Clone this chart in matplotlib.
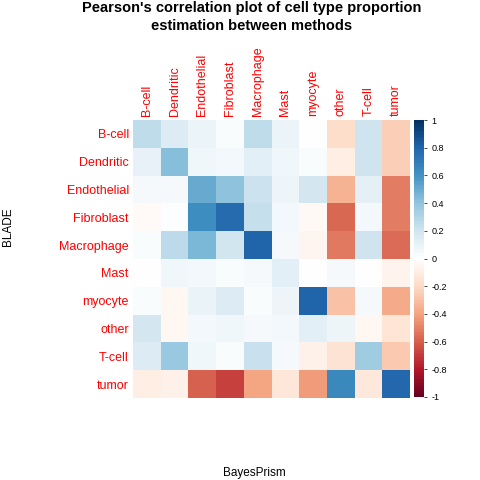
import numpy as np
import matplotlib
matplotlib.use('Agg')
import matplotlib.pyplot as plt
from matplotlib.colors import LinearSegmentedColormap

plt.rcParams['font.family'] = ['Liberation Sans', 'DejaVu Sans']

# cell types (rows = BLADE, columns = BayesPrism)
cell_types = ['B-cell', 'Dendritic', 'Endothelial', 'Fibroblast', 'Macrophage',
              'Mast', 'myocyte', 'other', 'T-cell', 'tumor']

# correlation values, one list per row
r_bcell       = [0.25, 0.15, 0.08, 0.02, 0.25, 0.08, 0.00, -0.19, 0.20, -0.25]
r_dendritic   = [0.10, 0.42, 0.06, 0.05, 0.12, 0.06, 0.02, -0.10, 0.20, -0.25]
r_endothelial = [0.04, 0.04, 0.50, 0.40, 0.21, 0.07, 0.18, -0.35, 0.11, -0.52]
r_fibroblast  = [-0.03, 0.01, 0.62, 0.77, 0.23, 0.05, -0.04, -0.58, 0.05, -0.52]
r_macrophage  = [0.02, 0.26, 0.45, 0.19, 0.80, 0.04, -0.06, -0.53, 0.20, -0.57]
r_mast        = [0.00, 0.06, 0.05, 0.02, 0.04, 0.12, 0.00, 0.04, 0.00, -0.07]
r_myocyte     = [0.02, -0.05, 0.09, 0.14, 0.02, 0.07, 0.80, -0.30, 0.04, -0.38]
r_other       = [0.18, -0.05, 0.05, 0.06, 0.04, 0.05, 0.12, 0.07, -0.05, -0.15]
r_tcell       = [0.14, 0.37, 0.06, 0.02, 0.22, 0.04, -0.08, -0.16, 0.35, -0.27]
r_tumor       = [-0.10, -0.08, -0.60, -0.68, -0.40, -0.14, -0.43, 0.64, -0.13, 0.78]

corr = np.array([r_bcell, r_dendritic, r_endothelial, r_fibroblast, r_macrophage,
                 r_mast, r_myocyte, r_other, r_tcell, r_tumor])
cbar_ticks = [-1, -0.8, -0.6, -0.4, -0.2, 0, 0.2, 0.4, 0.6, 0.8, 1]

# corrplot-style RdBu palette (white in the middle)
rdbu = LinearSegmentedColormap.from_list('corr_rdbu', [
    '#67001F', '#B2182B', '#D6604D', '#F4A582', '#FDDBC7', '#FFFFFF',
    '#D1E5F0', '#92C5DE', '#4393C3', '#2166AC', '#053061'], N=200)

W, H = 480, 480
fig = plt.figure(figsize=(4.8, 4.8), dpi=100)

# heatmap axes (pixel box: x 133-410, y 120-398)
ax = fig.add_axes([133 / W, 1 - 398 / H, (410 - 133) / W, (398 - 120) / H])
n = len(cell_types)
mesh = ax.pcolormesh(np.arange(n + 1), np.arange(n + 1), corr,
                     cmap=rdbu, vmin=-1, vmax=1)
ax.set_xlim(0, n)
ax.set_ylim(n, 0)
ax.set_xticks(np.arange(n) + 0.5)
ax.set_yticks(np.arange(n) + 0.5)
ax.set_xticklabels(cell_types, rotation=90, color='red', fontsize=9)
ax.set_yticklabels(cell_types, color='red', fontsize=9)
ax.xaxis.tick_top()
ax.tick_params(length=0, pad=3)
for s in ax.spines.values():
    s.set_visible(False)

# colour bar
cax = fig.add_axes([414 / W, 1 - 397 / H, 10 / W, (397 - 120) / H])
cb = fig.colorbar(mesh, cax=cax, ticks=cbar_ticks)
cb.outline.set_visible(False)
cb.ax.set_yticklabels(['%g' % t for t in cbar_ticks])
cb.ax.tick_params(labelsize=6.5, length=2, width=0.5)

fig.text(0.525, 0.997, "Pearson's correlation plot of cell type proportion\nestimation between methods",
         ha='center', va='top', fontsize=10.5, fontweight='bold', linespacing=1.3)
fig.text(0.53, 0.003, 'BayesPrism', ha='center', va='bottom', fontsize=8.5)
fig.text(0.017, 0.527, 'BLADE', rotation=90, ha='center', va='center', fontsize=8.5)

fig.savefig('out.png', dpi=100)
